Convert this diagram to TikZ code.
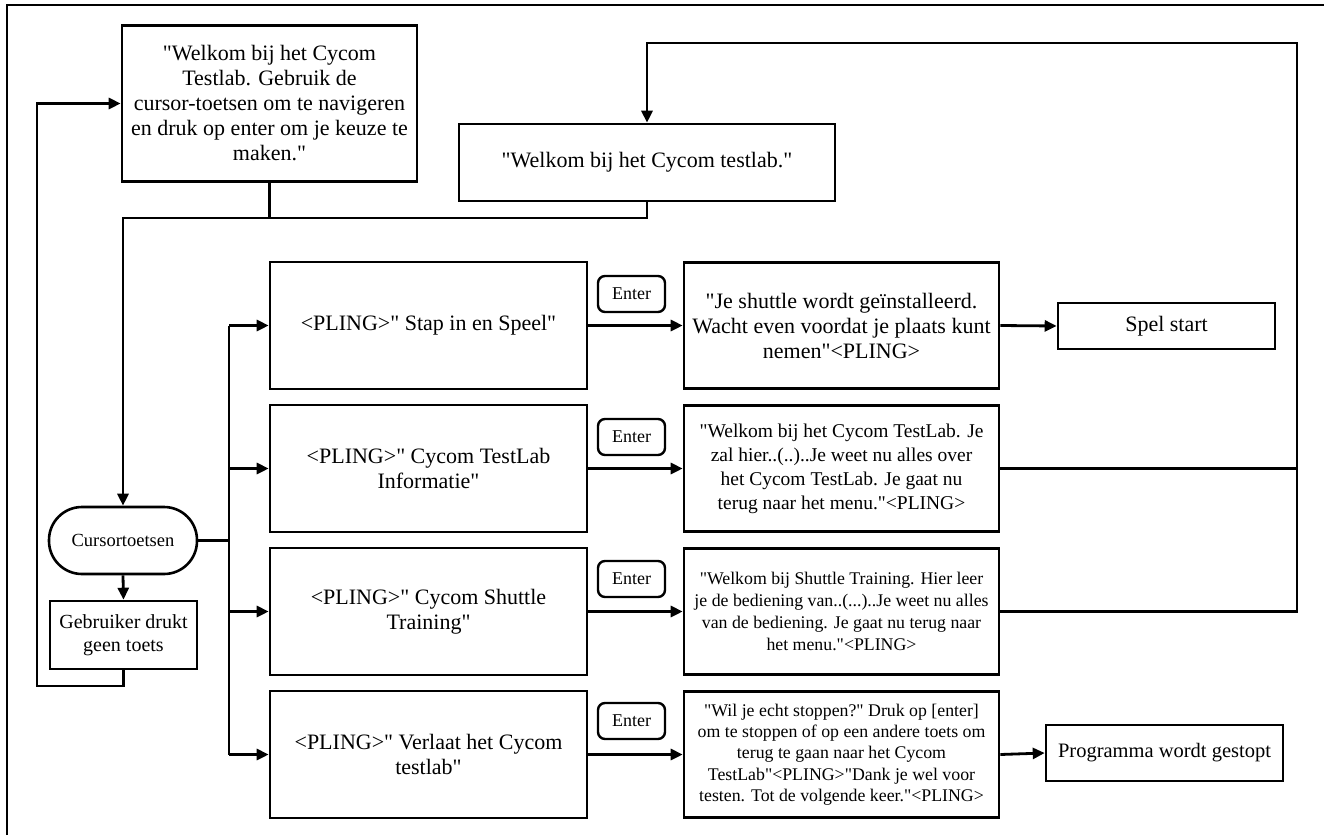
\documentclass[tikz,border=0pt]{standalone}
\usepackage{fontspec}
\setmainfont{Liberation Serif}[Ligatures=TeXOff]
\usetikzlibrary{arrows.meta}
\begin{document}
\begin{tikzpicture}[x=1pt,y=-1pt,
  box/.style={draw,line width=2.6pt,inner sep=0pt,align=center,fill=white},
  conn/.style={line width=2.8pt},
  arr/.style={line width=2.8pt,-{Triangle[length=12pt,width=11pt]}},
  fmain/.style={font=\fontsize{22}{25}\selectfont},
  fsmall/.style={font=\fontsize{19.5}{24}\selectfont},
  fsmaller/.style={font=\fontsize{17.8}{22}\selectfont},
  enterbtn/.style={draw,line width=2.4pt,rounded corners=7pt,minimum width=67pt,minimum height=36pt,inner sep=0pt,font=\fontsize{18}{20}\selectfont},
]
\useasboundingbox (0,0) rectangle (1324,835);
\draw[line width=1.6pt] (7,835) -- (7,5) -- (1324,5);

% nodes
\node[box,fmain,minimum width=295pt,minimum height=156pt] (A) at (269.5,103.5)
  {"Welkom bij het Cycom\\Testlab. Gebruik de\\cursor-toetsen om te navigeren\\en druk op enter om je keuze te\\maken."};
\node[box,fmain,minimum width=376pt,minimum height=77pt] (B) at (647,162.5)
  {"Welkom bij het Cycom testlab."};
\node[draw,line width=2.6pt,rounded corners=33pt,minimum width=148pt,minimum height=67pt,inner sep=0pt,font=\fontsize{18.5}{20}\selectfont] (cur) at (123,540.5) {Cursortoetsen};
\node[box,font=\fontsize{20}{23}\selectfont,minimum width=147pt,minimum height=68pt] (geb) at (123.5,635) {Gebruiker drukt\\geen toets};

\node[box,fmain,minimum width=317pt,minimum height=127pt] (C1) at (428.5,325.5) {<PLING>" Stap in en Speel"};
\node[box,fmain,minimum width=317pt,minimum height=127pt] (C2) at (428.5,468.5) {<PLING>" Cycom TestLab\\Informatie"};
\node[box,fmain,minimum width=317pt,minimum height=127pt] (C3) at (428.5,611.5) {<PLING>" Cycom Shuttle\\Training"};
\node[box,fmain,minimum width=317pt,minimum height=127pt] (C4) at (428.5,754.5) {<PLING>" Verlaat het Cycom\\testlab"};

\node[box,fmain,minimum width=315pt,minimum height=126pt] (D1) at (841.5,325.5) {"Je shuttle wordt geïnstalleerd.\\Wacht even voordat je plaats kunt\\nemen"<PLING>};
\node[box,fsmall,minimum width=315pt,minimum height=126pt] (D2) at (841.5,468.5) {"Welkom bij het Cycom TestLab. Je\\zal hier..(..)..Je weet nu alles over\\het Cycom TestLab. Je gaat nu\\terug naar het menu."<PLING>};
\node[box,fsmaller,minimum width=315pt,minimum height=126pt] (D3) at (841.5,611.5) {"Welkom bij Shuttle Training. Hier leer\\je de bediening van..(...)..Je weet nu alles\\van de bediening. Je gaat nu terug naar\\het menu."<PLING>};
\node[box,font=\fontsize{17.8}{21.3}\selectfont,minimum width=315pt,minimum height=126pt] (D4) at (841.5,754.5) {"Wil je echt stoppen?" Druk op [enter]\\om te stoppen of op een andere toets om\\terug te gaan naar het Cycom\\TestLab"<PLING>"Dank je wel voor\\testen. Tot de volgende keer."<PLING>};

\node[enterbtn] (E1) at (631.5,294) {Enter};
\node[enterbtn] (E2) at (631.5,437) {Enter};
\node[enterbtn] (E3) at (631.5,579) {Enter};
\node[enterbtn] (E4) at (631.5,721) {Enter};

\node[box,fmain,minimum width=217pt,minimum height=46pt] (spel) at (1166.5,326) {Spel start};
\node[box,font=\fontsize{20.5}{24}\selectfont,minimum width=237pt,minimum height=56pt] (prog) at (1164.5,753) {Programma wordt gestopt};

% coordinates
\coordinate (j1) at (123,218);
\coordinate (tr) at (1297,43);
\coordinate (bus) at (229,540.5);
\coordinate (lp) at (37,686);

% connectors
\draw[conn] (A.south) -- (A.south |- j1);
\draw[arr] (B.south) |- (j1) -- (cur.north);
\draw[arr] (cur.south) -- (geb.north);
\draw[arr] (geb.south) |- (lp) |- (A.west);
\draw[conn] (cur.east) -- (bus);
\draw[conn] (bus |- C1.west) -- (bus |- C4.west);
\draw[arr] (bus |- C1.west) -- (C1.west);
\draw[arr] (bus |- C2.west) -- (C2.west);
\draw[arr] (bus |- C3.west) -- (C3.west);
\draw[arr] (bus |- C4.west) -- (C4.west);
\draw[arr] (C1.east) -- (D1.west);
\draw[arr] (C2.east) -- (D2.west);
\draw[arr] (C3.east) -- (D3.west);
\draw[arr] (C4.east) -- (D4.west);
\draw[arr] (D1.east) -- (spel.west);
\draw[arr] (D4.east) -- (prog.west);
\draw[arr] (D3.east) -| (tr) -| (B.north);
\draw[conn] (D2.east) -- (D2.east -| tr);
\end{tikzpicture}
\end{document}
